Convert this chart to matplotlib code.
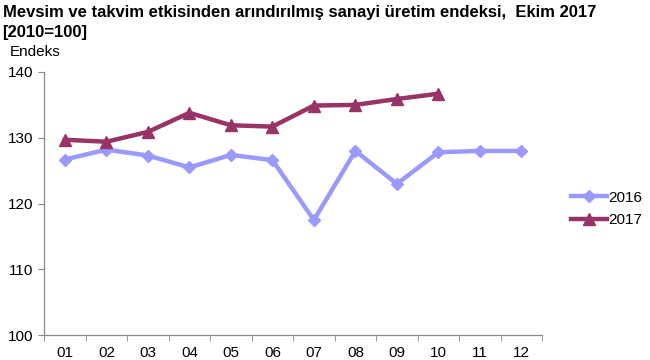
import matplotlib.pyplot as plt
import numpy as np

plt.rcParams['font.family'] = ['Liberation Sans', 'DejaVu Sans']

months = ["01", "02", "03", "04", "05", "06", "07", "08", "09", "10", "11", "12"]
idx_2016 = [126.7, 128.2, 127.3, 125.5, 127.4, 126.6, 117.5, 128.0, 123.0, 127.8, 128.0, 128.0]
idx_2017 = [129.7, 129.4, 130.9, 133.8, 131.9, 131.7, 134.9, 135.0, 135.9, 136.7]

fig = plt.figure(figsize=(6.5, 3.6), dpi=100)
ax = fig.add_axes([0.068, 0.069, 0.766, 0.731])

x16 = np.arange(len(idx_2016))
x17 = np.arange(len(idx_2017))
ax.plot(x16, idx_2016, color="#9999FF", lw=3.2, marker="D", ms=6, label="2016")
ax.plot(x17, idx_2017, color="#993366", lw=3.2, marker="^", ms=8, label="2017")

ax.set_xlim(-0.5, 11.5)
ax.set_ylim(100, 140)
ax.set_yticks([100, 110, 120, 130, 140])
ax.set_xticks(np.arange(12))
ax.set_xticklabels(months)
ax.set_xticks(np.arange(-0.5, 12, 1), minor=True)
ax.tick_params(axis="x", which="major", length=0, pad=8, labelsize=11)
ax.tick_params(axis="x", which="minor", length=4, color="#888888", direction="out")
ax.tick_params(axis="y", length=4, color="#888888", labelsize=11, pad=4)

for s in ["top", "right"]:
    ax.spines[s].set_visible(False)
for s in ["left", "bottom"]:
    ax.spines[s].set_color("#888888")
    ax.spines[s].set_linewidth(0.9)

ax.legend(loc="center left", bbox_to_anchor=(1.03, 0.48), frameon=False,
          fontsize=11, handlelength=2.4, handletextpad=0.05, labelspacing=0.55)

fig.text(0.004, 0.985, "Mevsim ve takvim etkisinden arındırılmış sanayi üretim endeksi,  Ekim 2017",
         fontsize=12, fontweight="bold", va="top", ha="left")
fig.text(0.004, 0.93, "[2010=100]", fontsize=12, fontweight="bold", va="top", ha="left")
fig.text(0.015, 0.875, "Endeks", fontsize=11, va="top", ha="left")

fig.savefig("out.png", dpi=100)
